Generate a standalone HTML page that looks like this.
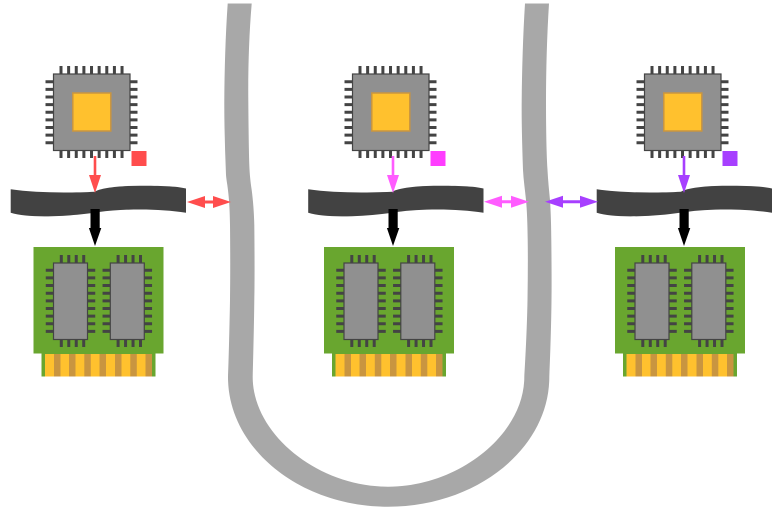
<!DOCTYPE html>
<html><head><meta charset="utf-8"><style>html,body{margin:0;padding:0;background:#fff}svg{display:block}</style></head><body>
<svg width="783" height="512" viewBox="0 0 783 512" xmlns="http://www.w3.org/2000/svg">
<defs>
<g id="cpu">
<g fill="none" stroke="#444" stroke-dasharray="3 4.63">
<path d="M59.5 70H124M59.5 154H124" stroke-width="8"/>
<path d="M49.5 80.2V144.500M133.500 80.2V144.500" stroke-width="8"/>
</g>
<rect x="53.500" y="74" width="76.500" height="76.500" fill="#909090" stroke="#444" stroke-width="1.200"/>
<rect x="72.800" y="93" width="38" height="38" fill="#ffc12e" stroke="#c99540" stroke-width="1.500"/>
</g>
<g id="chip">
<g fill="none" stroke="#444">
<path d="M59.800 259H86M59.800 343H86" stroke-width="8" stroke-dasharray="3 4.47"/>
<path d="M49.500 268.800V333M91.500 268.800V333" stroke-width="7.500" stroke-dasharray="3 4.63"/>
</g>
<rect x="53.500" y="263" width="34" height="76.500" fill="#909090" stroke="#444" stroke-width="1.200"/>
</g>
<g id="ram">
<rect x="33.500" y="247" width="130" height="106.500" fill="#69a62f"/>
<rect x="41.500" y="353.500" width="114" height="23" fill="#69a62f"/>
<rect x="45" y="354" width="107" height="22.500" fill="#ffc12e"/>
<g fill="#c99540">
<rect x="54" y="354" width="6.500" height="22.500"/><rect x="69" y="354" width="6.500" height="22.500"/><rect x="84.300" y="354" width="6.500" height="22.500"/><rect x="99.500" y="354" width="6.500" height="22.500"/><rect x="115" y="354" width="6.500" height="22.500"/><rect x="130.300" y="354" width="6.500" height="22.500"/><rect x="145.500" y="354" width="6.500" height="22.500"/>
</g>
<use href="#chip"/><use href="#chip" x="56.800"/>
</g>
<path id="bus" d="M10.700 189.300C35 193 70 193 95 191.700C100 188 120 185.700 140 185.700C160 185.700 176 186 186 188.500V212.800C160 208.500 125 208.500 99 212C75 216 30 219 10.700 212.800Z" fill="#424242"/>
<path id="down" d="M93.700 156H96.300V175H101L95 193L89 175H93.700Z"/>
<path id="blk" d="M90.500 209H99.700V228H101.300L95 246L88.900 228H90.500Z" fill="#000"/>
</defs>
<path d="M227.700 3.500H251.700C249 35 248 70 248.300 100C248.500 125 248.800 150 249.300 165C249.700 175 250.500 182 251.700 190C253 200 254 212 254.300 225C254.600 250 254.700 285 254.300 300C254 325 253.300 355 252.700 377C252.700 434 317.600 486.700 388 486.700C458.900 486.700 524.300 434 524.300 377C525 365 527 330 527.500 300C527.800 280 528 260 527.700 240C527.500 225 527 210 526 200C525 190 523.500 180 523 170C522 140 521.500 120 521.700 100C522 70 523 35 525 3.500H549C547 35 546 70 546 100C546 130 546.500 155 547.500 170C548 180 549 190 550 200C551 215 551.200 230 551.300 240C551.600 265 551.700 285 551.500 300C551.300 320 550.500 350 549.300 377C549.300 448.500 476.600 506.700 388 506.700C300 506.700 228 448.500 228 377C228.500 365 229.500 330 230 300C230.300 280 230.300 250 230 225C229.800 212 229.300 202 228.300 193C227.700 186 226.500 181 226 175C225 150 224.200 125 224.300 100C224.500 70 225.500 35 227.700 3.500Z" fill="#a8a8a8"/>
<g>
<use href="#cpu"/><use href="#bus"/><use href="#down" fill="#ff4d4d"/><use href="#blk"/><use href="#ram"/>
<rect x="131.500" y="151" width="15" height="15" fill="#ff4d4d"/>
</g>
<g>
<use href="#cpu" x="299"/><use href="#bus" x="297.500"/><use href="#down" x="298" fill="#ff5cff"/><use href="#blk" x="298"/><use href="#ram" x="290.500"/>
<rect x="430.500" y="151" width="15" height="15" fill="#ff3dff"/>
</g>
<g>
<use href="#cpu" x="591"/><use href="#bus" x="586"/><use href="#down" x="589" fill="#a73fff"/><use href="#blk" x="589"/><use href="#ram" x="581.500"/>
<rect x="722.500" y="151" width="15" height="15" fill="#a73fff"/>
</g>
<path d="M187 202L205 196V200.500H213V196L231 202L213 208V203.500H205V208Z" fill="#ff4d4d"/>
<path d="M484 201.700L502 195.700V200.200H511V195.700L529 201.700L511 207.700V203.200H502V207.700Z" fill="#ff5cff"/>
<path d="M545 201.700L563 195.700V200.200H580V195.700L598 201.700L580 207.700V203.200H563V207.700Z" fill="#a73fff"/>
</svg>
</body></html>
